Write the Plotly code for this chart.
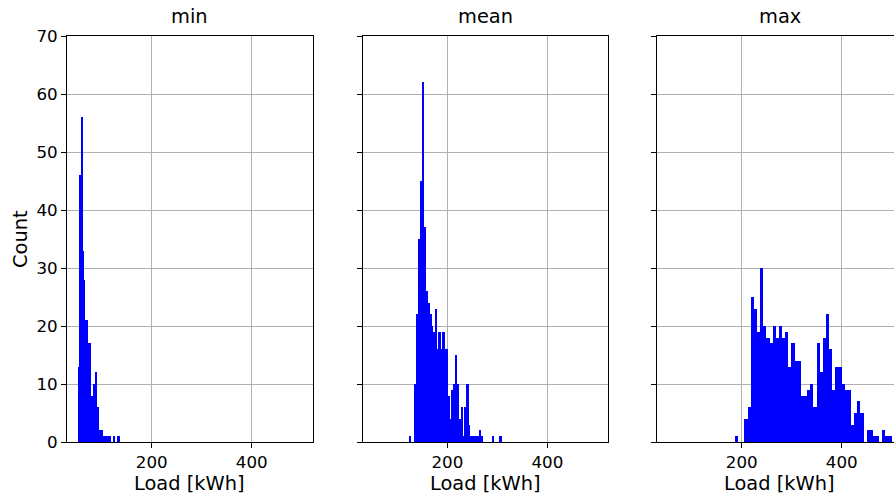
import plotly.graph_objects as go

# ---- data (histogram counts) ----
titles = ["min", "mean", "max"]

min_range = (52.9, 135.9)
min_counts = [13, 13, 46, 39, 56, 33, 28, 28, 21, 21,
              21, 14, 14, 17, 17, 8, 8, 6, 6, 10,
              10, 12, 6, 6, 2, 2, 1, 2, 2, 1,
              1, 1, 1, 0, 1, 1, 0, 1, 1, 0,
              0, 0, 0, 1, 0, 0, 0, 1, 0, 1]

mean_range = (123.4, 308.1)
mean_counts = [1, 0, 0, 10, 22, 35, 45, 62, 37, 26,
               24, 22, 20, 19, 23, 16, 19, 16, 19, 16,
               16, 8, 4, 9, 10, 15, 10, 4, 6, 1,
               6, 10, 3, 1, 1, 1, 1, 1, 2, 1,
               0, 0, 0, 0, 0, 1, 0, 0, 0, 1]

max_range = (186.6, 500.0)
max_counts = [1, 0, 0, 4, 6, 25, 23, 19, 30, 20,
              18, 17, 20, 18, 20, 18, 19, 13, 17, 14,
              14, 8, 8, 9, 10, 6, 17, 12, 18, 22,
              16, 9, 13, 13, 10, 9, 9, 3, 5, 7,
              5, 0, 2, 2, 1, 1, 0, 2, 1, 1]

x_ticks = [200, 400]
y_ticks = [0, 10, 20, 30, 40, 50, 60, 70]
x_label = "Load [kWh]"
y_label = "Count"

series = [(min_range, min_counts), (mean_range, mean_counts), (max_range, max_counts)]

# ---- layout geometry ----
W, H = 894, 494
ML, MR, MT, MB = 67, 0, 36, 52
PW = W - ML - MR
domains = [[0.0, 245.5 / PW], [295.6 / PW, 541.1 / PW], [590.0 / PW, 1.0]]
xr = [30.6, 521.5]
xr3 = [30.6, 30.6 + (PW - 590.0) / 245.5 * (xr[1] - xr[0])]
ranges = [xr, xr, xr3]

FONT = "DejaVu Sans"
fig = go.Figure()

for k, ((lo, hi), counts) in enumerate(series):
    n = len(counts)
    w = (hi - lo) / n
    centers = [lo + w * (i + 0.5) for i in range(n)]
    fig.add_trace(go.Bar(
        x=centers, y=counts, width=[w] * n,
        marker=dict(color="#0000ff", line=dict(width=0)),
        xaxis="x" if k == 0 else f"x{k+1}",
        yaxis="y" if k == 0 else f"y{k+1}",
        showlegend=False, hoverinfo="x+y",
    ))

axis_common = dict(
    showline=True, linecolor="black", linewidth=1,
    ticks="outside", ticklen=5, tickwidth=1, tickcolor="black",
    showgrid=True, gridcolor="#b0b0b0", gridwidth=1,
    zeroline=False, layer="above traces",
    tickfont=dict(family=FONT, size=16.7, color="black"),
)

layout = dict(
    width=W, height=H,
    margin=dict(l=ML, r=MR, t=MT, b=MB, pad=0),
    paper_bgcolor="white", plot_bgcolor="white",
    bargap=0, barmode="overlay",
    font=dict(family=FONT, color="black"),
)

for k in range(3):
    sx = "" if k == 0 else str(k + 1)
    layout[f"xaxis{sx}"] = dict(
        axis_common, domain=domains[k], range=ranges[k],
        tickvals=x_ticks, ticktext=[str(v) for v in x_ticks],
        mirror=True, anchor=f"y{sx}",
    )
    layout[f"yaxis{sx}"] = dict(
        axis_common, domain=[0, 1], range=[0, 70],
        tickvals=y_ticks, showticklabels=(k == 0),
        mirror=(k < 2), anchor=f"x{sx}",
    )

fig.update_layout(**layout)

annotations = []
for k in range(3):
    cx = (domains[k][0] + (domains[k][0] + 245.5 / PW)) / 2
    annotations.append(dict(
        text=titles[k], x=cx, y=(H - MB - 17) / (H - MT - MB),
        xref="paper", yref="paper", showarrow=False,
        xanchor="center", yanchor="middle",
        font=dict(family=FONT, size=19.4, color="black"),
    ))
    annotations.append(dict(
        text=x_label, x=cx, y=(H - MB - 483) / (H - MT - MB),
        xref="paper", yref="paper", showarrow=False,
        xanchor="center", yanchor="middle",
        font=dict(family=FONT, size=19.4, color="black"),
    ))
annotations.append(dict(
    text=y_label, x=(20 - ML) / PW, y=0.5, textangle=-90,
    xref="paper", yref="paper", showarrow=False,
    xanchor="center", yanchor="middle",
    font=dict(family=FONT, size=19.4, color="black"),
))
fig.update_layout(annotations=annotations)

fig.write_html("out.html")
